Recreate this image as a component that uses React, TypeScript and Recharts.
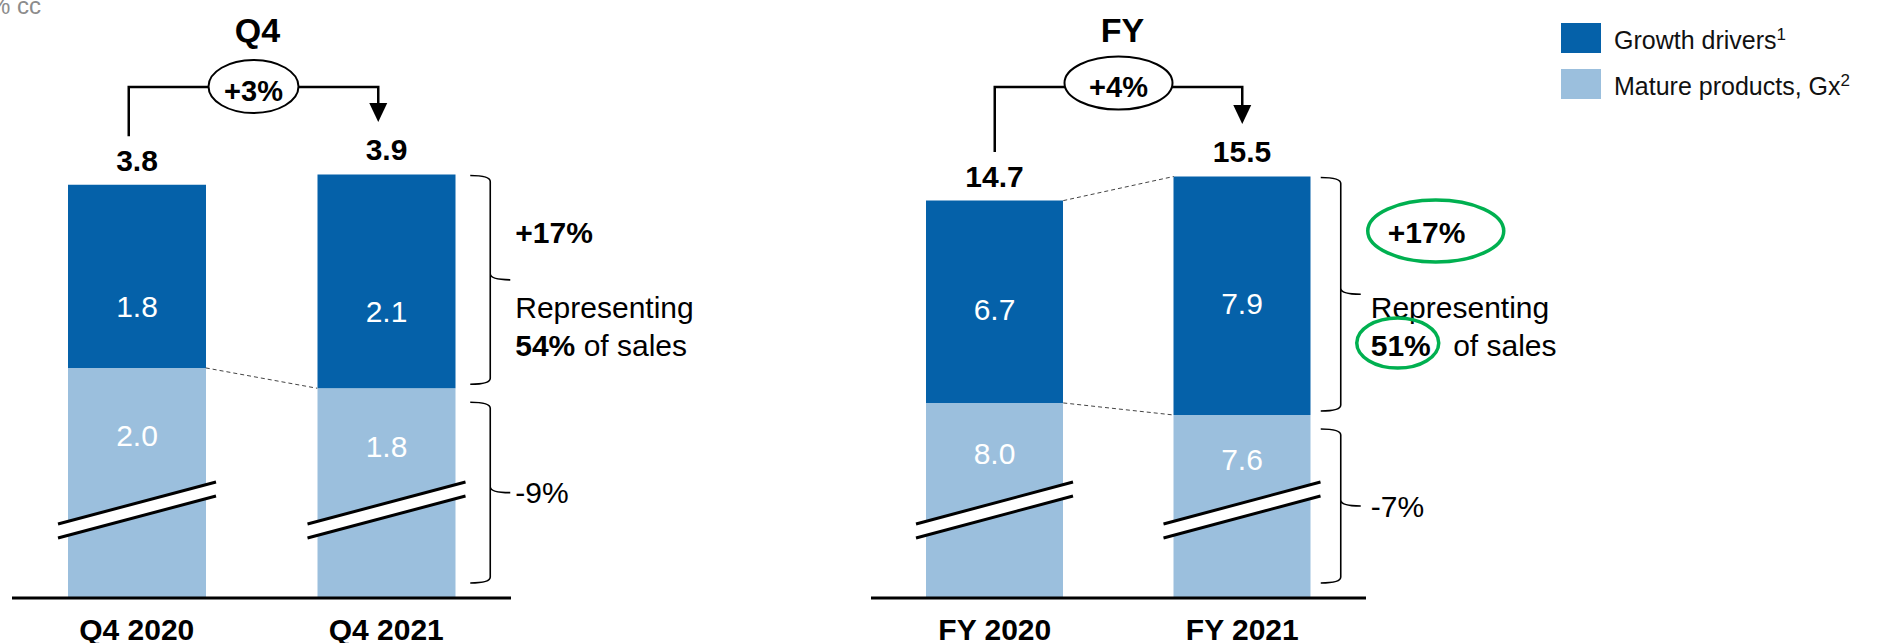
import { BarChart, Bar, XAxis, YAxis, LabelList, Legend } from 'recharts';

const FONT = '"Liberation Sans", Arial, sans-serif';
const DARK = '#0561a9';
const LIGHT = '#9bbfdd';
const GREEN = '#00b050';

const W = 1881;
const H = 643;
const PLOT_TOP = 120;
const PLOT_BOTTOM = 598;

// Q4 (USD bn)
const q4Periods = ['Q4 2020', 'Q4 2021'];
const q4Growth = [1.8, 2.1];
const q4Mature = [2.0, 1.8];
const q4Totals = [3.8, 3.9];

// full year (USD bn)
const fyPeriods = ['FY 2020', 'FY 2021'];
const fyGrowth = [6.7, 7.9];
const fyMature = [8.0, 7.6];
const fyTotals = [14.7, 15.5];

const panelTitles = ['Q4', 'FY'];
const totalChange = ['+3%', '+4%'];
const growthChange = ['+17%', '+17%'];
const growthShare = ['54%', '51%'];
const matureChange = ['-9%', '-7%'];

const legendLabels = ['Growth drivers', 'Mature products, Gx'];
const legendNotes = ['1', '2'];

// value axis starts away from zero: the mature bars are drawn with a break
const panels = [
  {
    periods: q4Periods, growth: q4Growth, mature: q4Mature, totals: q4Totals,
    left: 0, width: 850, mLeft: 12, mRight: 339, barSize: 138, domain: [-0.26, 4.435],
    arrowDx: -8, ringRx: 45, ringCy: 86.5, braceDx: 35, darkDy: 30, topLink: false, circled: false,
  },
  {
    periods: fyPeriods, growth: fyGrowth, mature: fyMature, totals: fyTotals,
    left: 850, width: 1031, mLeft: 21, mRight: 515, barSize: 137, domain: [1.54, 17.37],
    arrowDx: 0, ringRx: 54, ringCy: 83, braceDx: 30, darkDy: 8, topLink: true, circled: true,
  },
];

function scales(p: any) {
  const band = (p.width - p.mLeft - p.mRight) / p.periods.length;
  const cx = (i: number) => p.left + p.mLeft + band * (i + 0.5);
  const y = (v: number) =>
    PLOT_BOTTOM - ((v - p.domain[0]) / (p.domain[1] - p.domain[0])) * (PLOT_BOTTOM - PLOT_TOP);
  return { cx, y, half: p.barSize / 2 };
}

// light bar runs down to the axis, with the break marks across it
function MatureShape(props: any) {
  const { x, y, width, fill } = props;
  const x0 = x - 10;
  const x1 = x + width + 10;
  const yL = PLOT_BOTTOM - 74;
  const yR = PLOT_BOTTOM - 116;
  const gap = 14;
  return (
    <g>
      <rect x={x} y={y} width={width} height={PLOT_BOTTOM - y} fill={fill} />
      <polygon points={`${x0},${yL} ${x1},${yR} ${x1},${yR + gap} ${x0},${yL + gap}`} fill="#fff" />
      <line x1={x0} y1={yL} x2={x1} y2={yR} stroke="#000" strokeWidth={3} />
      <line x1={x0} y1={yL + gap} x2={x1} y2={yR + gap} stroke="#000" strokeWidth={3} />
    </g>
  );
}

function brace(x: number, y1: number, y2: number) {
  const r = 6;
  const m = (y1 + y2) / 2;
  return (
    `M ${x - 20} ${y1} Q ${x} ${y1} ${x} ${y1 + r} L ${x} ${m - r} Q ${x} ${m} ${x + 20} ${m} ` +
    `M ${x} ${m - r} Q ${x} ${m} ${x} ${m + r} L ${x} ${y2 - r} Q ${x} ${y2} ${x - 20} ${y2}`
  );
}

function Panel({ p }: any) {
  const data = p.periods.map((period: string, i: number) => ({
    period,
    growth: p.growth[i],
    mature: p.mature[i],
    total: p.totals[i],
  }));

  return (
    <div style={{ position: 'absolute', left: p.left, top: 0 }}>
      <BarChart
        width={p.width}
        height={H}
        data={data}
        barSize={p.barSize}
        margin={{ top: PLOT_TOP, bottom: 0, left: p.mLeft, right: p.mRight }}
      >
        <XAxis
          dataKey="period"
          height={H - PLOT_BOTTOM}
          interval={0}
          tickLine={false}
          tickSize={6}
          tickMargin={15}
          axisLine={{ stroke: '#000', strokeWidth: 3 }}
          tick={{ fill: '#000', fontSize: 30, fontWeight: 700, fontFamily: FONT }}
        />
        <YAxis hide type="number" domain={p.domain} allowDataOverflow />
        <Bar
          dataKey="mature"
          name={legendLabels[1]}
          stackId="s"
          fill={LIGHT}
          isAnimationActive={false}
          shape={(props: any) => <MatureShape {...props} />}
        >
          <LabelList
            dataKey="mature"
            content={(lp: any) => {
              const cy = (lp.y + PLOT_BOTTOM - 94) / 2;
              return (
                <text x={lp.x + lp.width / 2} y={cy + 10.5} textAnchor="middle" fill="#fff"
                  fontSize={30} fontFamily={FONT}>
                  {Number(lp.value).toFixed(1)}
                </text>
              );
            }}
          />
        </Bar>
        <Bar dataKey="growth" name={legendLabels[0]} stackId="s" fill={DARK} isAnimationActive={false}>
          <LabelList
            dataKey="growth"
            content={(lp: any) => (
              <text x={lp.x + lp.width / 2} y={lp.y + lp.height / 2 + p.darkDy + 10.5}
                textAnchor="middle" fill="#fff" fontSize={30} fontFamily={FONT}>
                {Number(lp.value).toFixed(1)}
              </text>
            )}
          />
          <LabelList
            dataKey="total"
            content={(lp: any) => (
              <text x={lp.x + lp.width / 2} y={lp.y - 14} textAnchor="middle" fill="#000"
                fontSize={30} fontWeight={700} fontFamily={FONT}>
                {Number(lp.value).toFixed(1)}
              </text>
            )}
          />
        </Bar>
        {p.circled && (
          <Legend
            layout="vertical"
            align="center"
            verticalAlign="middle"
            wrapperStyle={{ left: 711, top: 15, width: 320, height: 92 }}
            content={() => (
              <div style={{ fontFamily: FONT, fontSize: 25, color: '#111' }}>
                {legendLabels.map((label, i) => (
                  <div key={label} style={{ display: 'flex', alignItems: 'center', height: 46 }}>
                    <div style={{ width: 40, height: 30, flexShrink: 0, marginRight: 13,
                      background: i === 0 ? DARK : LIGHT }} />
                    <span style={{ whiteSpace: 'nowrap', position: 'relative', top: 2 }}>
                      {label}
                      <span style={{ fontSize: 17, position: 'relative', top: -9 }}>{legendNotes[i]}</span>
                    </span>
                  </div>
                ))}
              </div>
            )}
          />
        )}
      </BarChart>
    </div>
  );
}

function Annotations({ p, k }: any) {
  const { cx, y, half } = scales(p);
  const xa = cx(0) + p.arrowDx;
  const xb = cx(1) + p.arrowDx;
  const mid = (xa + xb) / 2;
  const lineY = 87;
  const leftEnd = y(p.totals[0]) - 14 - 21.5 - 13;
  const tip = y(p.totals[1]) - 14 - 21.5 - 17;
  const right1 = cx(1) + half;
  const bx = right1 + p.braceDx;
  const tx = right1 + 60;
  const top1 = y(p.totals[1]);
  const seam1 = y(p.mature[1]);
  const lowTop = seam1 + 14;
  const lowBot = PLOT_BOTTOM - 15;
  const plusX = p.circled ? tx + 17 : tx;

  return (
    <g fontFamily={FONT} fill="#000">
      <text x={mid + 4} y={42} textAnchor="middle" fontSize={34} fontWeight={700}>{panelTitles[k]}</text>

      <path d={`M ${xa} ${leftEnd} L ${xa} ${lineY} L ${xb} ${lineY} L ${xb} ${tip - 18}`}
        fill="none" stroke="#000" strokeWidth={2.5} />
      <polygon points={`${xb - 9},${tip - 19} ${xb + 9},${tip - 19} ${xb},${tip}`} fill="#000" />
      <ellipse cx={mid} cy={p.ringCy} rx={p.ringRx} ry={26.5} fill="#fff" stroke="#000" strokeWidth={2} />
      <text x={mid} y={p.ringCy + 14} textAnchor="middle" fontSize={29} fontWeight={700}>{totalChange[k]}</text>

      {p.topLink && (
        <line x1={cx(0) + half} y1={y(p.totals[0])} x2={cx(1) - half} y2={top1}
          stroke="#444" strokeWidth={1} strokeDasharray="4 3" />
      )}
      <line x1={cx(0) + half} y1={y(p.mature[0])} x2={cx(1) - half} y2={seam1}
        stroke="#444" strokeWidth={1} strokeDasharray="4 3" />

      <path d={brace(bx, top1 + 1, seam1 - 4)} fill="none" stroke="#000" strokeWidth={1.6} />
      <path d={brace(bx, lowTop, lowBot)} fill="none" stroke="#000" strokeWidth={1.6} />

      <text x={plusX} y={243} fontSize={30} fontWeight={700}>{growthChange[k]}</text>
      <text x={tx} y={318} fontSize={30}>Representing</text>
      <text x={tx} y={356} fontSize={30}>
        <tspan fontWeight={700}>{growthShare[k]}</tspan>
        <tspan dx={p.circled ? 14 : 0}> of sales</tspan>
      </text>
      <text x={tx} y={(lowTop + lowBot) / 2 + 10.5} fontSize={30}>{matureChange[k]}</text>

      {p.circled && (
        <g fill="none" stroke={GREEN} strokeWidth={3.5}>
          <ellipse cx={plusX + 48} cy={231} rx={68} ry={31} />
          <ellipse cx={tx + 27} cy={343} rx={41} ry={25} />
        </g>
      )}
    </g>
  );
}

export default function App() {
  return (
    <div style={{ position: 'absolute', left: 0, top: 0, width: W, height: H, background: '#fff', overflow: 'hidden' }}>
      {panels.map((p, k) => (
        <Panel key={k} p={p} />
      ))}
      <svg width={W} height={H} style={{ position: 'absolute', left: 0, top: 0, pointerEvents: 'none' }}>
        <text x={41} y={14} textAnchor="end" fontSize={24} fontFamily={FONT} fill="#8c8c8c">% cc</text>
        {panels.map((p, k) => (
          <Annotations key={k} p={p} k={k} />
        ))}
      </svg>
    </div>
  );
}
